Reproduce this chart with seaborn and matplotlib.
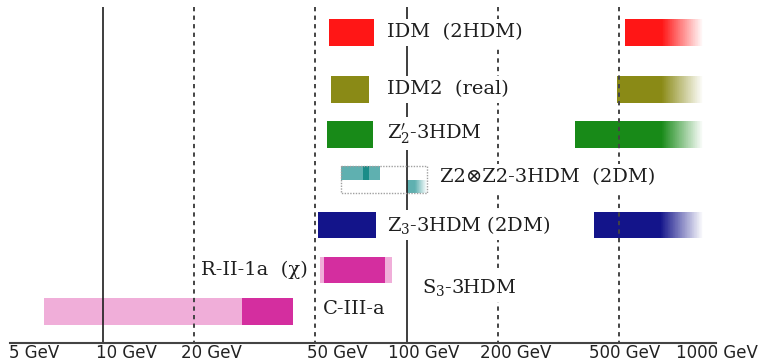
import numpy as np
import matplotlib
matplotlib.use("Agg")
import matplotlib.pyplot as plt
import matplotlib.colors as mcolors
import seaborn as sns

# ---- mass windows (GeV) ----
# light dark-matter windows: (low, high)
idm_light = (55.5, 78.0)
idm2_light = (56.3, 75.1)
z2p_light = (54.5, 77.3)
z3_light = (51.0, 79.2)

# heavy windows: (start, fade start, open end)
idm_heavy = (523, 693, 945)
idm2_heavy = (492, 690, 945)
z2p_heavy = (358, 690, 945)
z3_heavy = (414, 685, 945)

# Z2 x Z2 3HDM with two dark-matter candidates
z2z2_range = (60.6, 116.6)
z2z2_dm1 = (60.7, 81.7)
z2z2_dm1_core = (71.6, 75.1)
z2z2_dm2 = (100.2, 106.5, 116.6)

# S3-3HDM benchmark cases: (wide, core)
ciiia_wide = (51.8, 89.5)
ciiia_core = (53.4, 84.8)
rii1a_wide = (6.39, 28.7)
rii1a_core = (28.7, 42.2)

ticks_solid = [10, 100]
ticks_dashed = [20, 50, 200, 500]
tick_labels = ["5 GeV", "10 GeV", "20 GeV", "50 GeV", "100 GeV", "200 GeV", "500 GeV", "1000 GeV"]
tick_label_pos = [5.93, 11.9, 22.7, 59.0, 114, 229, 523, 1051]

# ---- layout (vertical units, top = 0) ----
row_y = {"idm": 32.5, "idm2": 89.5, "z2p": 134.5, "z2z2": 179.5, "z3": 225, "ciiia": 270, "rii1a": 311.5}
bar_h = 26.5

colors = {
    "idm": "#ff1616",
    "idm2": "#8a8a16",
    "z2p": "#188a18",
    "z3": "#13148a",
    "teal": "#5fb0b0",
    "teal_dark": "#1a8c88",
    "pink": "#f0aed9",
    "magenta": "#d42e9f",
}

sns.set_theme(style="white")
plt.rcParams["font.family"] = ["DejaVu Sans"]
plt.rcParams["mathtext.fontset"] = "dejavuserif"

fig = plt.figure(figsize=(7.63, 3.61), dpi=100)
ax = fig.add_axes([10 / 763, 18 / 361, 706 / 763, 343 / 361])
ax.set_xscale("log")
ax.set_xlim(4.94, 1043)
ax.set_ylim(343, 0)


def solid_bar(y, h, lo, hi, color):
    ax.barh(y, hi - lo, left=lo, height=h, color=color, linewidth=0, zorder=1)


def faded_bar(y, h, start, fade, end, color, n=60):
    solid_bar(y, h, start, fade, color)
    rgb = np.array(mcolors.to_rgb(color))
    edges = np.logspace(np.log10(fade), np.log10(end), n + 1)
    for i in range(n):
        t = (i + 0.5) / n
        c = rgb * (1 - t) + np.ones(3) * t
        ax.barh(y, edges[i + 1] * 1.002 - edges[i], left=edges[i], height=h,
                color=c, linewidth=0, antialiased=False, zorder=1)


# light windows
solid_bar(row_y["idm"], bar_h, *idm_light, colors["idm"])
solid_bar(row_y["idm2"], bar_h, *idm2_light, colors["idm2"])
solid_bar(row_y["z2p"], bar_h, *z2p_light, colors["z2p"])
solid_bar(row_y["z3"], bar_h, *z3_light, colors["z3"])

# heavy windows
faded_bar(row_y["idm"], bar_h, *idm_heavy, colors["idm"])
faded_bar(row_y["idm2"], bar_h, *idm2_heavy, colors["idm2"])
faded_bar(row_y["z2p"], bar_h, *z2p_heavy, colors["z2p"])
faded_bar(row_y["z3"], bar_h, *z3_heavy, colors["z3"])

# Z2 x Z2 row: two candidates, upper and lower half
yz = row_y["z2z2"]
half = bar_h / 2
solid_bar(yz - half / 2, half, *z2z2_dm1, colors["teal"])
solid_bar(yz - half / 2, half, *z2z2_dm1_core, colors["teal_dark"])
faded_bar(yz + half / 2, half, *z2z2_dm2, colors["teal"], n=30)
ax.barh(yz, z2z2_range[1] - z2z2_range[0], left=z2z2_range[0], height=bar_h,
        fill=False, edgecolor="#a0a0a0", linestyle=(0, (1, 1)), linewidth=1.0, zorder=4)

# S3-3HDM benchmarks
solid_bar(row_y["ciiia"], bar_h, *ciiia_wide, colors["pink"])
solid_bar(row_y["ciiia"], bar_h, *ciiia_core, colors["magenta"])
solid_bar(row_y["rii1a"], bar_h, *rii1a_wide, colors["pink"])
solid_bar(row_y["rii1a"], bar_h, *rii1a_core, colors["magenta"])

# reference mass lines
ax.vlines(ticks_solid, 7, 343, colors="#1e1e1e", linewidth=1.2, zorder=2)
ax.vlines(ticks_dashed, 7, 343, colors="#444444", linewidth=1.4,
          linestyles=(0, (2.2, 2.2)), zorder=2)

# model labels
box = dict(facecolor="white", edgecolor="none", pad=3)
serif = ["DejaVu Serif", "DejaVu Sans"]
label_kw = dict(fontsize=14, color="#1e1e1e", va="center", ha="left", family=serif, bbox=box, zorder=3)
ax.text(86.1, row_y["idm"], "IDM  (2HDM)", **label_kw)
ax.text(86.1, row_y["idm2"], "IDM2  (real)", **label_kw)
ax.text(86.1, row_y["z2p"] - 1, r"Z$_2^{\prime}$-3HDM", **label_kw)
ax.text(128.7, row_y["z2z2"] - 2, "Z2\u2297Z2-3HDM  (2DM)", **label_kw)
ax.text(86.1, row_y["z3"], r"Z$_3$-3HDM (2DM)", **label_kw)
ax.text(21.0, 269.5, "R-II-1a  (\u03c7)", **label_kw)
ax.text(53.0, 309, "C-III-a", **label_kw)
ax.text(112.0, 287, r"S$_3$-3HDM", **label_kw)

# axis
for side in ["top", "left", "right"]:
    ax.spines[side].set_visible(False)
ax.spines["bottom"].set_color("#444444")
ax.spines["bottom"].set_linewidth(1.5)
ax.set_xticks([])
ax.set_xticks([], minor=True)
ax.set_yticks([])
for pos, lab in zip(tick_label_pos, tick_labels):
    ax.text(pos, 358, lab, ha="center", va="baseline", fontsize=12, color="#222222", clip_on=False)

fig.savefig("out.png", dpi=100, facecolor="white")
